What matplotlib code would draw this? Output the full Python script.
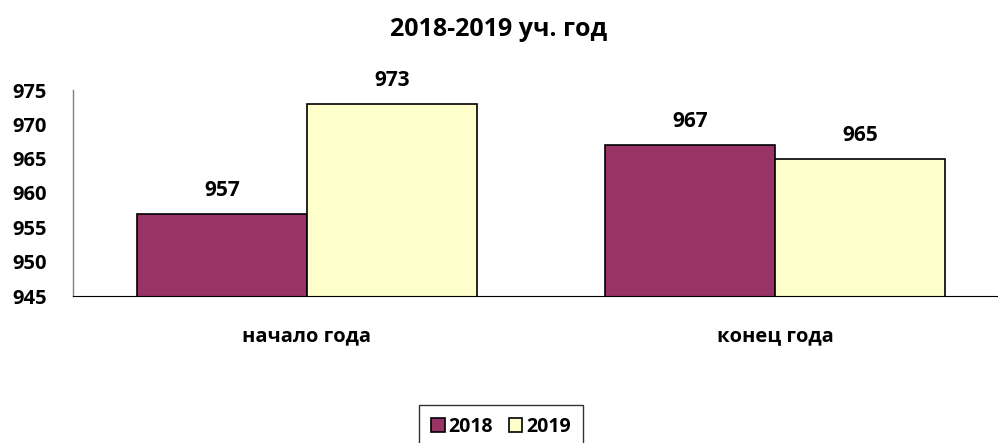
import numpy as np
import matplotlib.pyplot as plt

# data
categories = ["начало года", "конец года"]
years = ["2018", "2019"]
values_2018 = [957, 967]
values_2019 = [973, 965]
colors = ["#993366", "#FFFFCC"]

plt.rcParams['font.family'] = ['Open Sans', 'DejaVu Sans']
plt.rcParams['font.weight'] = 'bold'

fig = plt.figure(figsize=(9.98, 4.43), dpi=100)
ax = fig.add_axes([73 / 998, 1 - 296 / 443, 936 / 998, 206 / 443])

x = np.arange(len(categories))
w = 0.364
bars1 = ax.bar(x - w / 2, values_2018, w, color=colors[0],
               edgecolor="black", linewidth=1.2, label=years[0])
bars2 = ax.bar(x + w / 2, values_2019, w, color=colors[1],
               edgecolor="black", linewidth=1.2, label=years[1])

for bars in (bars1, bars2):
    for b in bars:
        ax.annotate(str(int(b.get_height())), (b.get_x() + b.get_width() / 2, b.get_height()),
                    xytext=(0, 9), textcoords="offset points", ha="center", va="bottom",
                    fontsize=15, fontweight="bold")

ax.set_ylim(945, 975)
ax.set_xlim(-0.5, 1.5)
ax.set_yticks(np.arange(945, 976, 5))
ax.set_yticklabels([str(v) for v in range(945, 976, 5)], fontweight="bold")
ax.tick_params(axis="y", length=0, labelsize=14.5, pad=19)
ax.tick_params(axis="x", length=0, labelsize=14.5, pad=22)
ax.set_xticks(x)
ax.set_xticklabels(categories, fontweight="bold")
ax.spines["top"].set_visible(False)
ax.spines["right"].set_visible(False)
ax.spines["left"].set_color("#808080")
ax.spines["left"].set_linewidth(1)
ax.spines["bottom"].set_color("black")

fig.text(0.5, 1 - 30 / 443, "2018-2019 уч. год", ha="center", va="center",
         fontsize=18, fontweight="bold")

leg = fig.legend(loc="center", bbox_to_anchor=(501 / 998, 1 - 427 / 443), ncol=2,
                 frameon=True, fancybox=False, edgecolor="black", fontsize=14,
                 handlelength=0.7, handleheight=0.7, handletextpad=0.2, columnspacing=0.8,
                 borderpad=0.6)
leg.get_frame().set_linewidth(1.0)
for t in leg.get_texts():
    t.set_fontweight("bold")

fig.savefig("out.png", dpi=100)
